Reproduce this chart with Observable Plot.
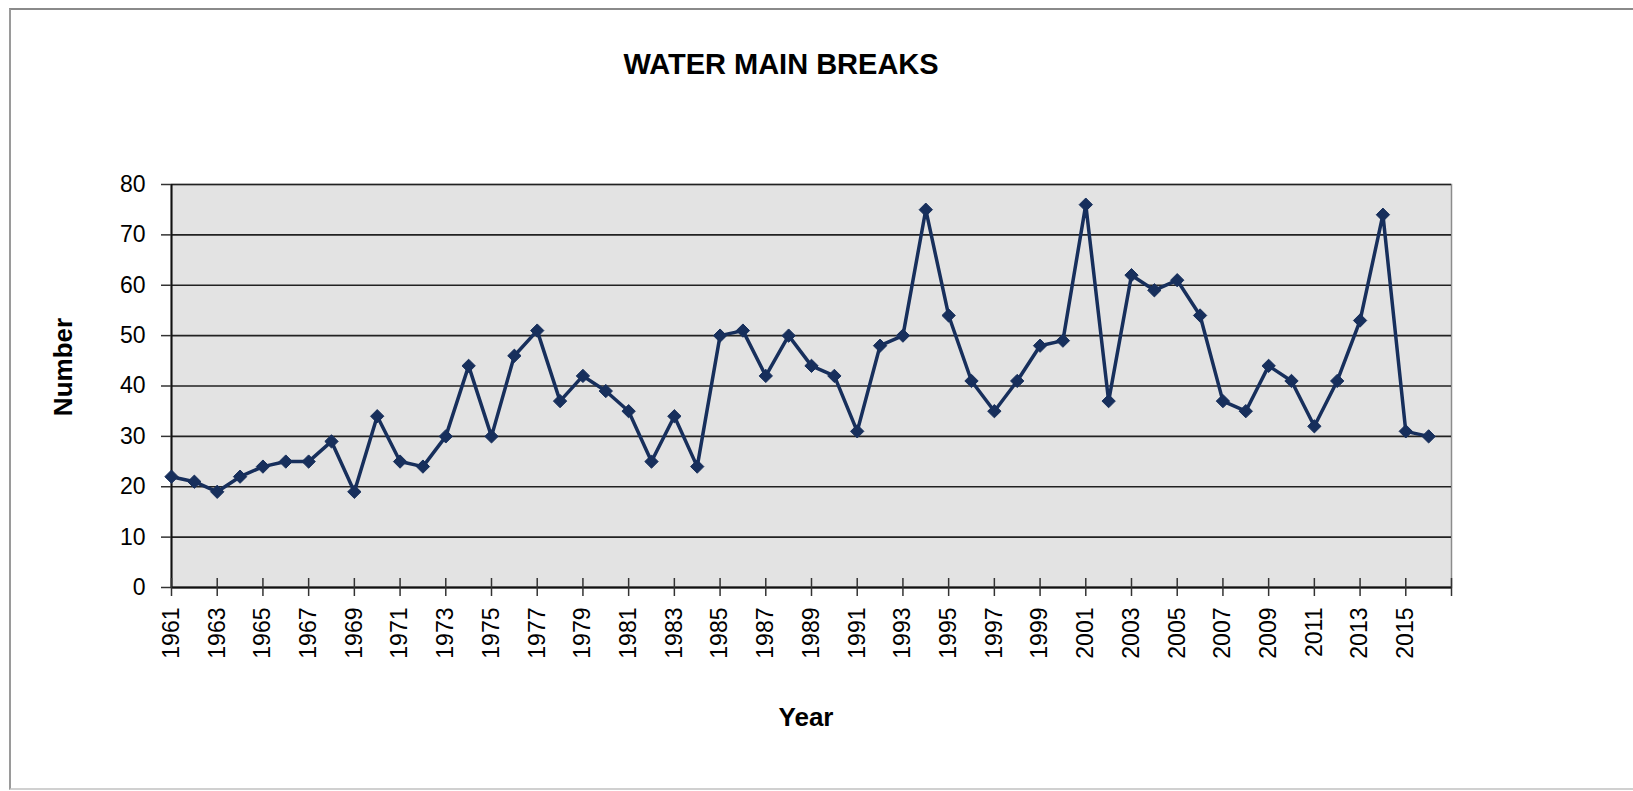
<!DOCTYPE html>
<html>
<head>
<meta charset="utf-8">
<script src="https://cdn.jsdelivr.net/npm/d3@7"></script>
<script src="https://cdn.jsdelivr.net/npm/@observablehq/plot@0.6"></script>
<style>
  html, body { margin: 0; padding: 0; background: #fff; width: 1633px; height: 791px; overflow: hidden;
    font-family: Arial, "Liberation Sans", sans-serif; }
  #border { position: absolute; left: 9px; top: 8px; width: 1650px; height: 778px;
    border-left: 2px solid #9a9a9a; border-top: 2px solid #8a8a8a; border-bottom: 2px solid #d0d0d0; }
  #chart { position: absolute; left: 0; top: 0; }
  .t { position: absolute; font-weight: bold; color: #000; white-space: nowrap; line-height: 1; }
  #title { left: 781px; top: 50px; font-size: 29px; transform: translateX(-50%); }
  #ylab { left: 63px; top: 367px; font-size: 26px; transform: translate(-50%, -50%) rotate(-90deg); }
  #xlab { left: 806px; top: 704px; font-size: 26px; transform: translateX(-50%); }
</style>
</head>
<body>
<div id="border"></div>
<div id="chart"></div>
<div class="t" id="title">WATER MAIN BREAKS</div>
<div class="t" id="ylab">Number</div>
<div class="t" id="xlab">Year</div>
<script>
const years = [1961, 1962, 1963, 1964, 1965, 1966, 1967, 1968, 1969, 1970,
  1971, 1972, 1973, 1974, 1975, 1976, 1977, 1978, 1979, 1980,
  1981, 1982, 1983, 1984, 1985, 1986, 1987, 1988, 1989, 1990,
  1991, 1992, 1993, 1994, 1995, 1996, 1997, 1998, 1999, 2000,
  2001, 2002, 2003, 2004, 2005, 2006, 2007, 2008, 2009, 2010,
  2011, 2012, 2013, 2014, 2015, 2016];
const breaks = [22, 21, 19, 22, 24, 25, 25, 29, 19, 34,
  25, 24, 30, 44, 30, 46, 51, 37, 42, 39,
  35, 25, 34, 24, 50, 51, 42, 50, 44, 42,
  31, 48, 50, 75, 54, 41, 35, 41, 48, 49,
  76, 37, 62, 59, 61, 54, 37, 35, 44, 41,
  32, 41, 53, 74, 31, 30];
const xTickLabels = [1961, 1963, 1965, 1967, 1969, 1971, 1973, 1975, 1977, 1979,
  1981, 1983, 1985, 1987, 1989, 1991, 1993, 1995, 1997, 1999,
  2001, 2003, 2005, 2007, 2009, 2011, 2013, 2015];
const xTickMarks = [1961, 1963, 1965, 1967, 1969, 1971, 1973, 1975, 1977, 1979,
  1981, 1983, 1985, 1987, 1989, 1991, 1993, 1995, 1997, 1999,
  2001, 2003, 2005, 2007, 2009, 2011, 2013, 2015, 2017];
const xDomain = [1961, 2017];
const yTicks = [0, 10, 20, 30, 40, 50, 60, 70, 80];
const yDomain = [0, 80];

const data = years.map((year, i) => ({year, value: breaks[i]}));
const navy = "#172f5c";

const chart = Plot.plot({
  width: 1633,
  height: 791,
  marginLeft: 171,
  marginRight: 182,
  marginTop: 184,
  marginBottom: 204,
  style: {fontFamily: "Arial, 'Liberation Sans', sans-serif", fontSize: "23px", color: "#000", background: "transparent", overflow: "visible"},
  x: {domain: xDomain},
  y: {domain: yDomain},
  marks: [
    Plot.frame({fill: "#e3e3e3", stroke: "#8c8c8c", strokeWidth: 1.5}),
    Plot.gridY(yTicks, {stroke: "#222", strokeOpacity: 1, strokeWidth: 1.6}),
    Plot.ruleY([0], {stroke: "#111", strokeWidth: 2}),
    Plot.ruleX([xDomain[0]], {stroke: "#111", strokeWidth: 2}),
    Plot.axisY(yTicks, {tickSize: 10, tickPadding: 16, tickFormat: d => String(d), label: null, stroke: "#333", strokeWidth: 1.5}),
    Plot.axisX(xTickLabels, {tickSize: 0, tickPadding: 20, tickRotate: -90, tickFormat: d => String(d), label: null}),
    Plot.ruleX(xTickMarks, {x: d => d, y1: 0, y2: 0, insetTop: -9, insetBottom: -9, stroke: "#333", strokeWidth: 1.5}),
    Plot.line(data, {x: "year", y: "value", stroke: navy, strokeWidth: 3.5}),
    Plot.dot(data, {x: "year", y: "value", symbol: "diamond2", r: 6, fill: navy, stroke: navy, strokeWidth: 1})
  ]
});
document.getElementById("chart").appendChild(chart);
</script>
</body>
</html>
